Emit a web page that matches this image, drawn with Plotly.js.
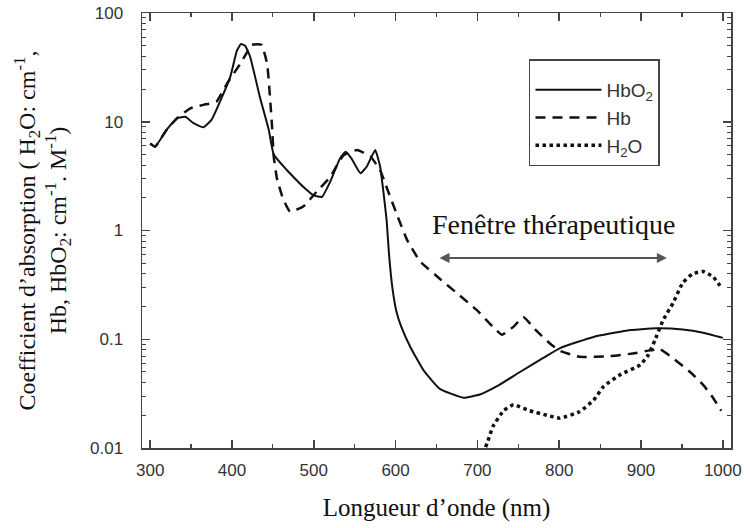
<!DOCTYPE html>
<html>
<head>
<meta charset="utf-8">
<script src="https://cdn.plot.ly/plotly-3.0.1.min.js"></script>
<style>
  html, body { margin: 0; padding: 0; background: #fff; }
  #chart { width: 750px; height: 528px; }
</style>
</head>
<body>
<div id="chart"></div>
<script>
// Wavelengths (nm) and absorption coefficients
const hbo2Wavelength = [300, 306, 320, 333, 343, 353, 365, 375, 388, 398, 406, 411, 416, 422, 434, 445, 451, 467, 479, 487, 500, 510, 520, 532, 539, 546, 557, 565, 575, 581, 585, 589, 592, 596, 601, 607, 618, 634, 654, 683, 703, 724, 752, 780, 801, 842, 882, 919, 951, 976, 1000];
const hbo2Values = [6.3, 5.9, 8.4, 10.8, 11.1, 9.7, 8.9, 10.4, 17, 26, 45, 52, 50, 40, 17, 8.4, 5.0, 3.6, 2.9, 2.53, 2.1, 2.04, 2.8, 4.6, 5.3, 4.6, 3.36, 3.9, 5.5, 3.9, 2.3, 1.25, 0.6, 0.3, 0.18, 0.13, 0.085, 0.052, 0.035, 0.029, 0.031, 0.037, 0.050, 0.067, 0.083, 0.105, 0.12, 0.126, 0.123, 0.115, 0.103];

const hbWavelength = [300, 306, 320, 333, 349, 365, 381, 394, 410, 418, 424, 436, 443, 447, 449, 451, 455, 462, 471, 487, 504, 520, 536, 553, 569, 581, 589, 601, 614, 630, 654, 675, 699, 719, 730, 744, 756, 772, 789, 801, 825, 862, 890, 911, 923, 939, 960, 976, 988, 998];
const hbValues = [6.3, 5.9, 8.4, 10.8, 13.3, 14.3, 15.3, 22.5, 34, 43, 51, 51, 34, 14.8, 9, 4.8, 3.0, 2.0, 1.49, 1.66, 2.3, 3.1, 4.9, 5.5, 4.8, 3.6, 2.5, 1.44, 0.82, 0.52, 0.36, 0.265, 0.186, 0.13, 0.11, 0.13, 0.16, 0.12, 0.091, 0.078, 0.069, 0.070, 0.074, 0.079, 0.081, 0.067, 0.050, 0.038, 0.029, 0.022];

const h2oWavelength = [710, 713, 719, 732, 744, 764, 785, 801, 825, 842, 854, 874, 899, 909, 917, 927, 939, 951, 963, 976, 988, 998];
const h2oValues = [0.0102, 0.0117, 0.0158, 0.022, 0.025, 0.022, 0.020, 0.0188, 0.0216, 0.0275, 0.0366, 0.047, 0.058, 0.072, 0.098, 0.15, 0.214, 0.33, 0.40, 0.42, 0.376, 0.30];

const seriesNames = ['HbO<sub>2</sub>', 'Hb', 'H<sub>2</sub>O'];
const yTickValues = [0.01, 0.1, 1, 10, 100];
const yTickLabels = ['0.01', '0.1', '1', '10', '100'];
const xTickValues = [300, 400, 500, 600, 700, 800, 900, 1000];
const xTickLabels = ['300', '400', '500', '600', '700', '800', '900', '1000'];

const serif = 'Liberation Serif, Times New Roman, serif';
const sans = 'Liberation Sans, Arial, sans-serif';

// minor tick positions on the log axis (2..9 of each decade)
const yMinorTicks = [];
[0.01, 0.1, 1, 10].forEach(d => { for (let k = 2; k <= 9; k++) yMinorTicks.push(d * k); });

const traces = [
  {x: hbo2Wavelength, y: hbo2Values, name: seriesNames[0], type: 'scatter', mode: 'lines',
   line: {color: '#111', width: 2, shape: 'spline', smoothing: 0.4}, legendgroup: 'a'},
  {x: hbWavelength, y: hbValues, name: seriesNames[1], type: 'scatter', mode: 'lines',
   line: {color: '#111', width: 2.5, dash: '10px,7px', shape: 'spline', smoothing: 0.4}, legendgroup: 'b'},
  {x: h2oWavelength, y: h2oValues, name: seriesNames[2], type: 'scatter', mode: 'lines',
   line: {color: '#111', width: 3.5, dash: '3.5px,3.5px', shape: 'spline', smoothing: 0.4}, legendgroup: 'c'}
];

const axisCommon = {
  showline: true, linecolor: '#444', linewidth: 1.5, mirror: 'allticks',
  ticks: 'inside', ticklen: 8, tickwidth: 1.5, tickcolor: '#444',
  showgrid: false, zeroline: false,
  tickfont: {family: sans, size: 17, color: '#333'}
};

const layout = {
  width: 750, height: 528,
  margin: {l: 142, r: 19, t: 13, b: 80},
  paper_bgcolor: '#fff', plot_bgcolor: '#fff',
  showlegend: true,
  legend: {
    x: 0.657, y: 0.894, xanchor: 'left', yanchor: 'top',
    bgcolor: '#fff', bordercolor: '#444', borderwidth: 1.5,
    font: {family: sans, size: 19, color: '#333'},
    title: {text: ' ', font: {size: 8}},
    tracegroupgap: 0, itemwidth: 66
  },
  xaxis: Object.assign({}, axisCommon, {
    range: [290, 1010],
    tickmode: 'array', tickvals: xTickValues, ticktext: xTickLabels, ticklabelstandoff: 6,
    minor: {ticks: 'inside', ticklen: 4, tickwidth: 1.2, tickcolor: '#444', dtick: 50, tick0: 300},
    title: {text: 'Longueur d’onde (nm)', font: {family: serif, size: 25, color: '#111'}, standoff: 19}
  }),
  yaxis: Object.assign({}, axisCommon, {
    type: 'log', range: [-2, 2],
    tickmode: 'array', tickvals: yTickValues, ticktext: yTickLabels, ticklabelstandoff: 14,
    minor: {ticks: 'inside', ticklen: 4, tickwidth: 1, tickcolor: '#444', tickmode: 'array', tickvals: yMinorTicks},
    title: {text: 'Coefficient d’absorption ( H<sub>2</sub>O: cm<sup>-1</sup>,<br>Hb, HbO<sub>2</sub>: cm<sup>-1</sup>. M<sup>-1</sup>)',
            font: {family: serif, size: 24, color: '#111'}, standoff: 16}
  }),
  annotations: [
    {x: 931.6, y: Math.log10(0.56), ax: 651.8, ay: Math.log10(0.56), xref: 'x', yref: 'y', axref: 'x', ayref: 'y',
     text: '', showarrow: true, arrowhead: 2, arrowside: 'end+start', arrowsize: 1, arrowwidth: 2, arrowcolor: '#555'},
    {x: 793, y: Math.log10(1.14), xref: 'x', yref: 'y', text: 'Fenêtre thérapeutique', showarrow: false,
     font: {family: serif, size: 28, color: '#111'}}
  ]
};

Plotly.newPlot('chart', traces, layout, {displayModeBar: false, staticPlot: true});
</script>
</body>
</html>
